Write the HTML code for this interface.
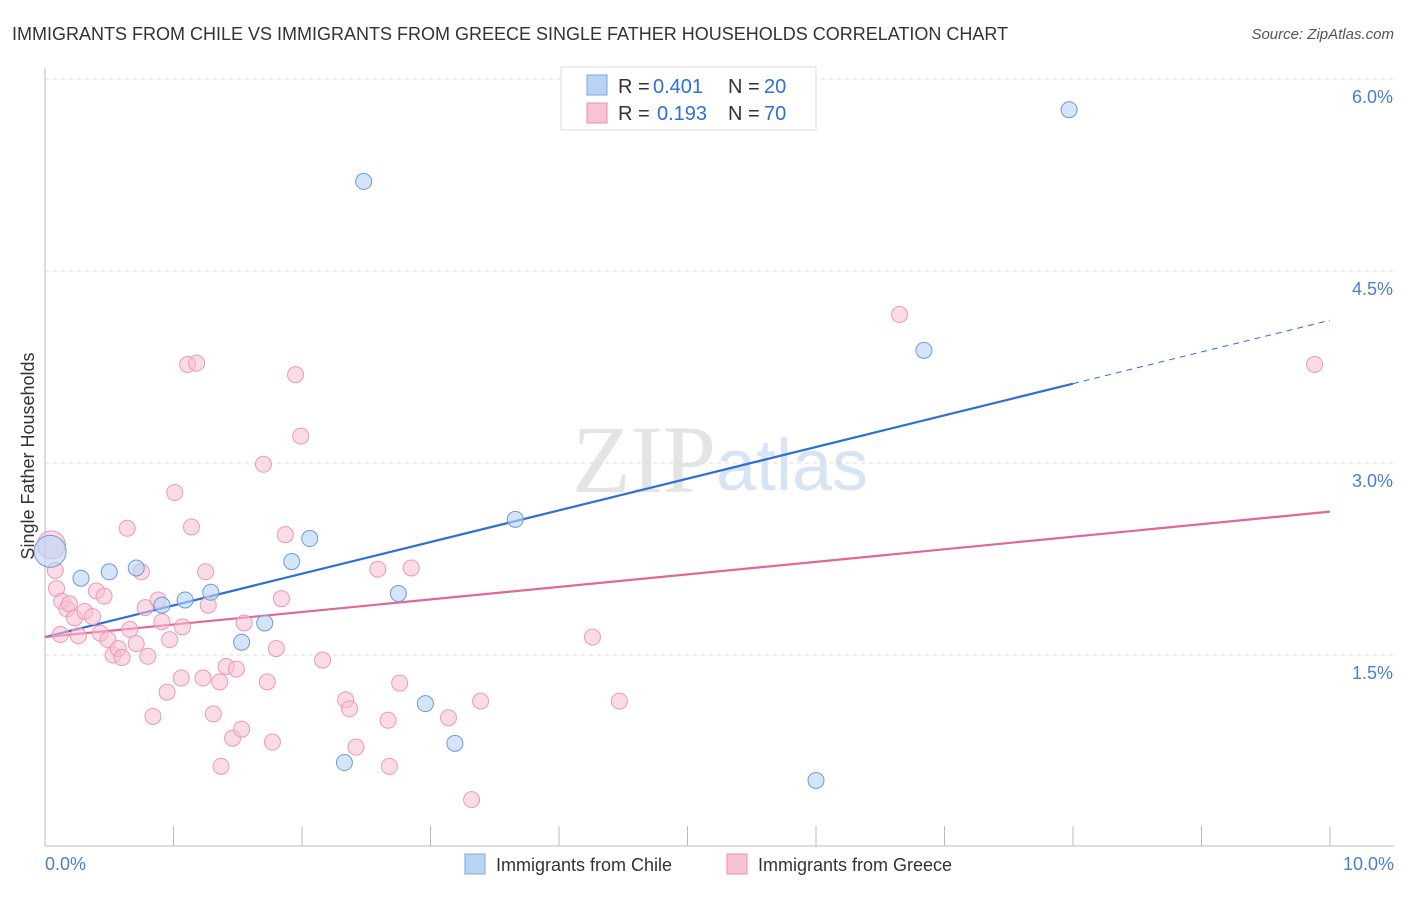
<!DOCTYPE html>
<html><head><meta charset="utf-8"><style>
body{margin:0;background:#fff;font-family:"Liberation Sans",sans-serif;}
</style></head><body>
<svg width="1406" height="892" xmlns="http://www.w3.org/2000/svg" id="chart">
<text x="12" y="40" font-size="18" fill="#333">IMMIGRANTS FROM CHILE VS IMMIGRANTS FROM GREECE SINGLE FATHER HOUSEHOLDS CORRELATION CHART</text>
<text x="1394" y="39" font-size="15" fill="#555" font-style="italic" text-anchor="end">Source: ZipAtlas.com</text>
<text x="716" y="492" font-size="96" fill="#e4e4e4" font-family="Liberation Serif" text-anchor="end">ZIP</text>
<text x="716" y="490" font-size="72" fill="#d6e4f3">atlas</text>
<g id="grid"></g><g id="axes"></g><g id="lines"></g><g id="pts"></g>
<text x="34" y="456" font-size="18" fill="#333" text-anchor="middle" transform="rotate(-90 34 456)">Single Father Households</text>
<text x="45" y="870" font-size="18" fill="#4a7fd0">0.0%</text>
<text x="1394" y="870" font-size="18" fill="#4a7fd0" text-anchor="end">10.0%</text>
<g>
<rect x="561" y="67" width="255" height="63" fill="#fff" stroke="#ddd"/>
<rect x="587" y="75" width="20" height="20" fill="#b9d3f5" stroke="#7aa5e0"/>
<rect x="587" y="103" width="20" height="20" fill="#f8c4d4" stroke="#e890ad"/>
<text x="618" y="93" font-size="20" fill="#333">R =</text>
<text x="653" y="93" font-size="20" fill="#2f6fd6">0.401</text>
<text x="728" y="93" font-size="20" fill="#333">N =</text>
<text x="764" y="93" font-size="20" fill="#2f6fd6">20</text>
<text x="618" y="120" font-size="20" fill="#333">R =</text>
<text x="657" y="120" font-size="20" fill="#2f6fd6">0.193</text>
<text x="728" y="120" font-size="20" fill="#333">N =</text>
<text x="764" y="120" font-size="20" fill="#2f6fd6">70</text>
</g>
<g>
<rect x="465" y="854" width="20" height="20" fill="#b9d3f5" stroke="#7aa5e0"/>
<text x="496" y="871" font-size="18" fill="#333">Immigrants from Chile</text>
<rect x="727" y="854" width="20" height="20" fill="#f8c4d4" stroke="#e890ad"/>
<text x="758" y="871" font-size="18" fill="#333">Immigrants from Greece</text>
</g>
</svg>
<script>
const yTicks=[1.5,3.0,4.5,6.0];
const yTickLabels=["1.5%","3.0%","4.5%","6.0%"];
const xTicks=[0,1,2,3,4,5,6,7,8,9,10];
const chileX=[0.04,0.28,0.5,0.71,0.91,1.09,1.29,1.53,1.71,1.92,2.06,2.33,2.48,2.75,2.96,3.19,3.66,6.0,6.84,7.97];
const chileY=[2.31,2.1,2.15,2.18,1.89,1.93,1.99,1.6,1.75,2.23,2.41,0.66,5.2,1.98,1.12,0.81,2.56,0.52,3.88,5.76];
const greeceX=[0.05,0.08,0.09,0.13,0.17,0.19,0.23,0.26,0.31,0.37,0.4,0.43,0.46,0.49,0.53,0.57,0.6,0.64,0.66,0.71,0.75,0.78,0.8,0.84,0.88,0.91,0.95,0.97,1.01,1.07,1.06,1.11,1.14,1.18,1.25,1.27,1.23,1.31,1.36,1.37,1.41,1.46,1.49,1.53,1.55,1.7,1.73,1.77,1.8,1.84,1.87,1.95,1.99,2.16,2.34,2.37,2.42,2.59,2.67,2.68,2.76,2.85,3.14,3.32,3.39,4.26,4.47,6.65,9.88,0.12];
const greeceY=[2.36,2.16,2.02,1.92,1.86,1.9,1.79,1.65,1.84,1.8,2.0,1.67,1.96,1.62,1.5,1.55,1.48,2.49,1.7,1.59,2.15,1.87,1.49,1.02,1.93,1.76,1.21,1.62,2.77,1.72,1.32,3.77,2.5,3.78,2.15,1.89,1.32,1.04,1.29,0.63,1.41,0.85,1.39,0.92,1.75,2.99,1.29,0.82,1.55,1.94,2.44,3.69,3.21,1.46,1.15,1.08,0.78,2.17,0.99,0.63,1.28,2.18,1.01,0.37,1.14,1.64,1.14,4.16,3.77,1.66];
const chileFit=[1.64,0.2475], greeceFit=[1.64,0.098];
const NS="http://www.w3.org/2000/svg";
const sx=v=>45+v*128.5, sy=v=>847-v*128;
function mk(parent,tag,attrs){const e=document.createElementNS(NS,tag);for(const k in attrs)e.setAttribute(k,attrs[k]);document.getElementById(parent).appendChild(e);return e;}
yTicks.forEach((t,i)=>{
 const g=mk('grid','line',{x1:45,x2:1394,y1:sy(t),y2:sy(t),stroke:'#ddd','stroke-dasharray':'4,4'});
 
 
 const l=mk('grid','text',{x:1393,y:sy(t)+24,'font-size':18,fill:'#4a7fd0','text-anchor':'end'});
 l.textContent=yTickLabels[i];
 
 
});
const topGrid=mk('grid','line',{x1:45,x2:1394,y1:79,y2:79,stroke:'#ddd','stroke-dasharray':'4,4'});


const ya=mk('axes','line',{x1:45,x2:45,y1:68,y2:846,stroke:'#bbb'});


const xa=mk('axes','line',{x1:45,x2:1394,y1:846,y2:846,stroke:'#bbb'});


xTicks.forEach(t=>{const e=mk('axes','line',{x1:sx(t),x2:sx(t),y1:826,y2:846,stroke:'#bbb'});
 
 });
const bl=mk('lines','line',{x1:sx(0),y1:sy(chileFit[0]),x2:sx(8),y2:sy(chileFit[0]+8*chileFit[1]),stroke:'#2f6fd6','stroke-width':2.2});


const bd=mk('lines','line',{x1:sx(8),y1:sy(chileFit[0]+8*chileFit[1]),x2:sx(10),y2:sy(chileFit[0]+10*chileFit[1]),stroke:'#2f6fd6','stroke-width':1,'stroke-dasharray':'6,5'});


const pl=mk('lines','line',{x1:sx(0),y1:sy(greeceFit[0]),x2:sx(10),y2:sy(greeceFit[0]+10*greeceFit[1]),stroke:'#e0679a','stroke-width':2.2});


greeceX.forEach((x,i)=>{const c=mk('pts','circle',{cx:sx(x),cy:sy(greeceY[i]),r:i==0?14:8,fill:'rgba(248,190,210,0.55)',stroke:'#eb9ab6','stroke-width':1});
 
 });
chileX.forEach((x,i)=>{const c=mk('pts','circle',{cx:sx(x),cy:sy(chileY[i]),r:i==0?16:8,fill:'rgba(185,211,245,0.6)',stroke:'#6f9ad8','stroke-width':1});
 
 });
</script>
</body></html>
